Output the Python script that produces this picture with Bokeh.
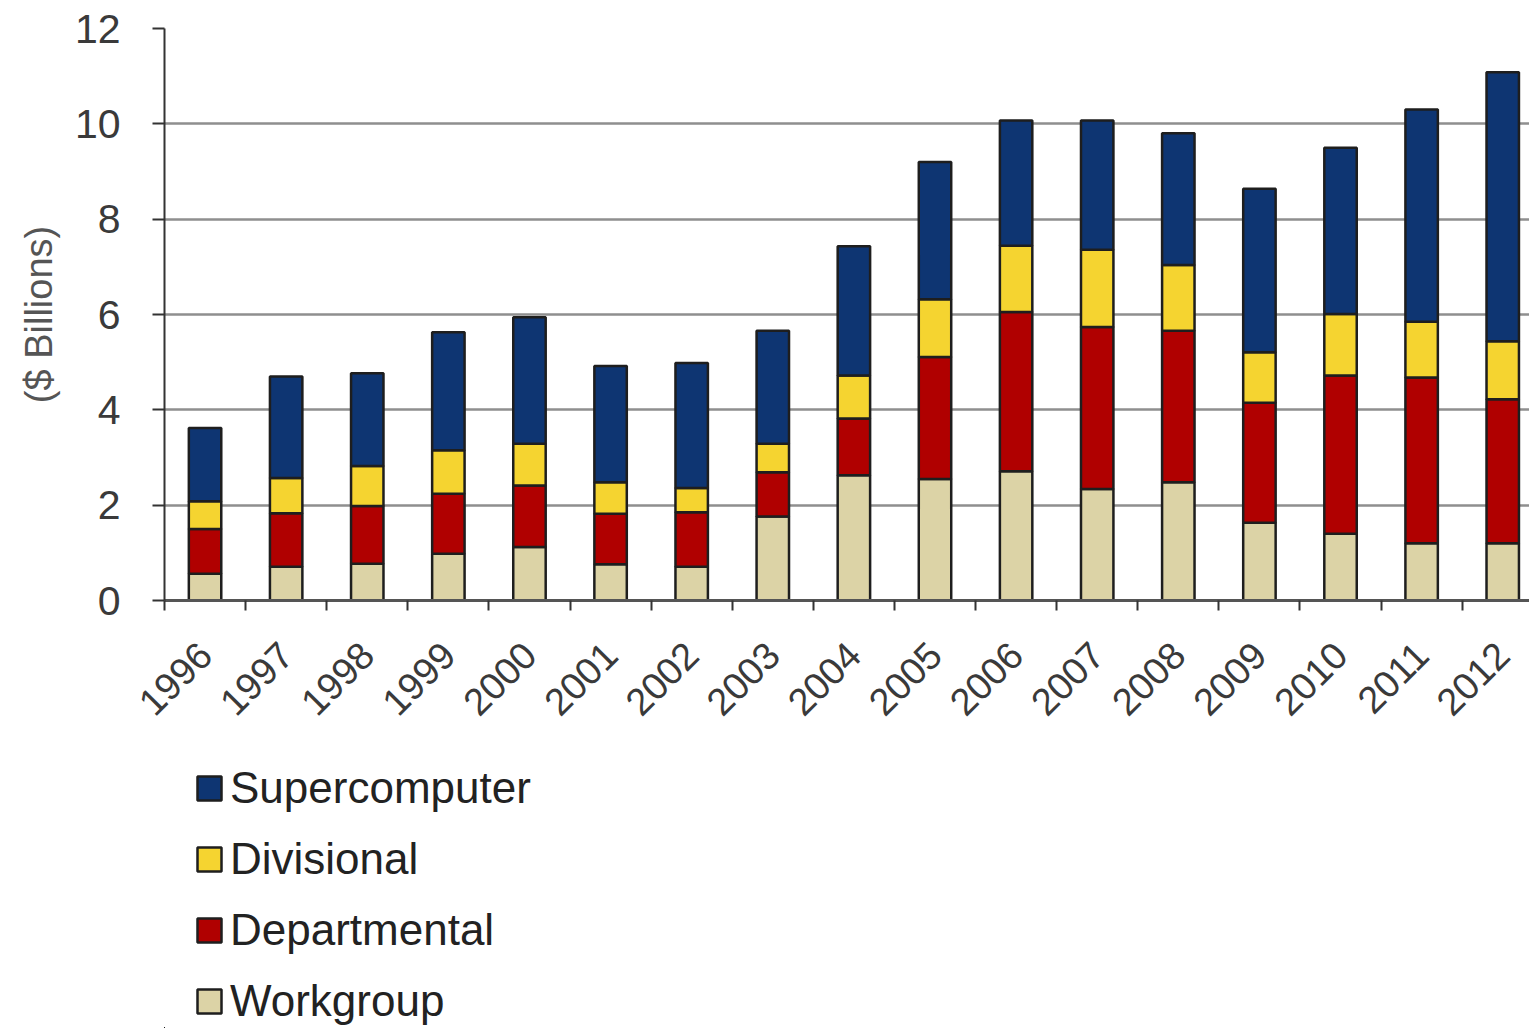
import math
from bokeh.plotting import figure
from bokeh.layouts import column
from bokeh.models import (ColumnDataSource, Range1d, FixedTicker, Legend, LegendItem)
from bokeh.embed import file_html
from bokeh.resources import INLINE

years = ["1996", "1997", "1998", "1999", "2000", "2001", "2002", "2003", "2004",
         "2005", "2006", "2007", "2008", "2009", "2010", "2011", "2012"]
workgroup = [0.56, 0.71, 0.77, 0.98, 1.12, 0.76, 0.71, 1.76, 2.63, 2.55, 2.71, 2.34, 2.48, 1.63, 1.40, 1.20, 1.20]
departmental = [0.94, 1.12, 1.21, 1.26, 1.29, 1.06, 1.14, 0.93, 1.19, 2.56, 3.34, 3.40, 3.18, 2.52, 3.32, 3.48, 3.02]
divisional = [0.58, 0.74, 0.84, 0.91, 0.88, 0.66, 0.51, 0.60, 0.90, 1.21, 1.39, 1.62, 1.38, 1.06, 1.29, 1.17, 1.22]
supercomputer = [1.54, 2.13, 1.95, 2.48, 2.65, 2.44, 2.62, 2.37, 2.71, 2.88, 2.63, 2.71, 2.76, 3.43, 3.49, 4.45, 5.64]
y_ticks = [0, 2, 4, 6, 8, 10, 12]

series = ["Workgroup", "Departmental", "Divisional", "Supercomputer"]
colors = ["#dcd3a6", "#b00000", "#f5d430", "#0e3572"]

idx = list(range(len(years)))
src = ColumnDataSource(dict(x=idx, Workgroup=workgroup, Departmental=departmental,
                            Divisional=divisional, Supercomputer=supercomputer))

FONT = "Liberation Sans"
W = 1529
LEFT = 164

p = figure(width=W, height=740, output_backend="svg", toolbar_location=None,
           x_range=Range1d(-0.5, 16.33), y_range=Range1d(0, 12),
           min_border_left=LEFT, min_border_right=0, min_border_top=28,
           min_border_bottom=140)
p.outline_line_color = None
p.background_fill_color = "white"

p.vbar_stack(series, x="x", width=0.4, source=src, fill_color=colors,
             line_color="#1e1e1e", line_width=2.5)

# axes
p.yaxis.ticker = FixedTicker(ticks=y_ticks)
p.yaxis.major_label_text_font = FONT
p.yaxis.major_label_text_font_size = "41px"
p.yaxis.major_label_text_color = "#3a3a3a"
p.yaxis.major_tick_out = 12
p.yaxis.major_tick_in = 0
p.yaxis.minor_tick_line_color = None
p.yaxis.major_label_standoff = 32
p.yaxis.axis_line_color = "#333333"
p.yaxis.axis_line_width = 2
p.yaxis.major_tick_line_color = "#333333"
p.yaxis.major_tick_line_width = 2
p.yaxis.axis_label = "($ Billions)"
p.yaxis.axis_label_text_font = FONT
p.yaxis.axis_label_text_font_size = "38px"
p.yaxis.axis_label_text_font_style = "normal"
p.yaxis.axis_label_text_color = "#555555"
p.yaxis.axis_label_standoff = 12

p.xaxis.ticker = FixedTicker(ticks=idx, minor_ticks=[i - 0.5 for i in range(len(years) + 1)])
p.xaxis.major_label_overrides = {i: y for i, y in enumerate(years)}
p.xaxis.major_label_orientation = math.pi / 4
p.xaxis.major_label_text_font = FONT
p.xaxis.major_label_text_font_size = "38px"
p.xaxis.major_label_text_color = "#3a3a3a"
p.xaxis.major_tick_line_color = None
p.xaxis.major_tick_out = 10
p.xaxis.major_tick_in = 0
p.xaxis.minor_tick_line_color = "#333333"
p.xaxis.minor_tick_line_width = 2
p.xaxis.minor_tick_out = 10
p.xaxis.minor_tick_in = 0
p.xaxis.major_label_standoff = 38
p.xaxis.axis_line_color = "#555555"
p.xaxis.axis_line_width = 3

p.xgrid.visible = False
p.ygrid.grid_line_color = "#8f8f8f"
p.ygrid.grid_line_width = 2.5

# legend panel (separate figure beneath the chart; its bars lie far outside its view)
lg = figure(width=W, height=288, output_backend="svg", toolbar_location=None,
            x_range=Range1d(1000, 1001), y_range=Range1d(1000, 1001),
            min_border_left=LEFT, min_border_right=0, min_border_top=0, min_border_bottom=0)
lg.axis.visible = False
lg.grid.visible = False
lg.outline_line_color = None
leg_renderers = {}
for name, col in zip(series, colors):
    leg_renderers[name] = lg.vbar(x="x", top=name, width=0.4, source=src,
                                  fill_color=col, line_color="#1e1e1e", line_width=2.5)

items = [LegendItem(label=name, renderers=[leg_renderers[name]])
         for name in ["Supercomputer", "Divisional", "Departmental", "Workgroup"]]
legend = Legend(items=items, location=(30, 2), orientation="vertical",
                glyph_width=30, glyph_height=30, label_height=46, spacing=21,
                label_standoff=6, padding=0, margin=0,
                border_line_color=None, background_fill_alpha=0,
                label_text_font=FONT, label_text_font_size="44px",
                label_text_color="#222222")
lg.add_layout(legend, "center")

layout = column(p, lg, spacing=0)
open("out.html", "w").write(file_html(layout, INLINE))
